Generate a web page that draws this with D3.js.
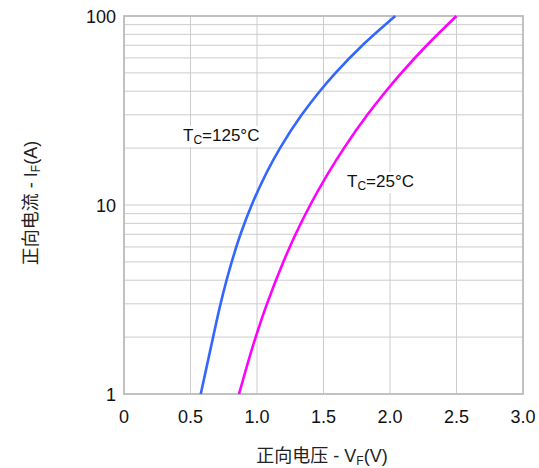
<!DOCTYPE html>
<html><head><meta charset="utf-8">
<script src="https://cdn.jsdelivr.net/npm/d3@7/dist/d3.min.js"></script>
<style>body{margin:0;background:#fff}</style>
</head><body>
<script>
const xTicks = [0, 0.5, 1.0, 1.5, 2.0, 2.5, 3.0];
const xTickLabels = ["0", "0.5", "1.0", "1.5", "2.0", "2.5", "3.0"];
const yTicks = [1, 10, 100];
const yTickLabels = ["1", "10", "100"];
// Tc=125°C
const v125 = [0.577, 0.670, 0.726, 0.810, 0.876, 0.960, 1.173, 1.336, 1.472, 1.591, 1.793, 2.040];
const i125 = [1, 2, 3, 5, 7, 10, 20, 30, 40, 50, 70, 100];
// Tc=25°C
const v25 = [0.865, 0.990, 1.075, 1.198, 1.290, 1.400, 1.654, 1.830, 1.969, 2.086, 2.277, 2.500];
const i25 = [1, 2, 3, 5, 7, 10, 20, 30, 40, 50, 70, 100];
const seriesNames = ["125", "25"];
const seriesColors = ["#3366ff", "#ff00ff"];

const W = 539, H = 468;
const m = {l:124, r:16, t:16, b:74};
const svg = d3.select("body").append("svg").attr("width", W).attr("height", H);
const x = d3.scaleLinear().domain([0, 3]).range([m.l, W - m.r]);
const y = d3.scaleLog().domain([1, 100]).range([H - m.b, m.t]);

const grid = svg.append("g");
const minor = [];
for (let d = 1; d < 100; d *= 10) for (let k = 2; k <= 9; k++) minor.push(d * k);
grid.selectAll("line.h").data(minor.concat([10])).join("line")
  .attr("x1", x(0)).attr("x2", x(3)).attr("y1", d => y(d)).attr("y2", d => y(d))
  .attr("stroke", "#cccccc").attr("stroke-width", 1);
grid.selectAll("line.v").data(xTicks.slice(1, -1)).join("line")
  .attr("y1", y(1)).attr("y2", y(100)).attr("x1", d => x(d)).attr("x2", d => x(d))
  .attr("stroke", "#cccccc").attr("stroke-width", 1);
svg.append("rect").attr("x", x(0)).attr("y", y(100)).attr("width", x(3) - x(0)).attr("height", y(1) - y(100))
  .attr("fill", "none").attr("stroke", "#bbbbbb").attr("stroke-width", 1.8);

const line = d3.line().x(d => x(d[0])).y(d => y(d[1])).curve(d3.curveMonotoneY);
[[v125, i125], [v25, i25]].forEach((s, k) => {
  svg.append("path").datum(d3.zip(s[0], s[1])).attr("d", line)
    .attr("fill", "none").attr("stroke", seriesColors[k]).attr("stroke-width", 2.6);
});

const font = "'Liberation Sans', Arial, sans-serif";
svg.selectAll("text.xt").data(xTicks).join("text")
  .attr("x", d => x(d)).attr("y", y(1) + 29).attr("text-anchor", "middle")
  .attr("font-family", font).attr("font-size", 18).attr("fill", "#111")
  .text((d, i) => xTickLabels[i]);
svg.selectAll("text.yt").data(yTicks).join("text")
  .attr("x", x(0) - 8).attr("y", d => y(d) + 7).attr("text-anchor", "end")
  .attr("font-family", font).attr("font-size", 18).attr("fill", "#111")
  .text((d, i) => yTickLabels[i]);

function label(px, py, temp) {
  const g = svg.append("g");
  const bg = g.append("rect").attr("fill", "#fff");
  const t = g.append("text").attr("x", px).attr("y", py).attr("font-family", font).attr("font-size", 17).attr("fill", "#111");
  t.append("tspan").text("T");
  t.append("tspan").attr("font-size", 12).attr("dy", 3).text("C");
  t.append("tspan").attr("dy", -3).text("=" + temp + "°C");
  const b = t.node().getBBox();
  bg.attr("x", b.x - 2).attr("y", b.y).attr("width", b.width + 4).attr("height", b.height);
}
label(183, 141, seriesNames[0]);
label(347, 187, seriesNames[1]);

const tf = "'Liberation Sans', Arial, 'Noto Sans CJK SC', sans-serif";
const xt = svg.append("text").attr("x", 322).attr("y", 462).attr("text-anchor", "middle")
  .attr("font-family", tf).attr("font-size", 18).attr("fill", "#222");
xt.append("tspan").text("正向电压 - V");
xt.append("tspan").attr("font-size", 12).attr("dy", 3).text("F");
xt.append("tspan").attr("dy", -3).text("(V)");
const yt = svg.append("text").attr("transform", "translate(37,203) rotate(-90)").attr("text-anchor", "middle")
  .attr("font-family", tf).attr("font-size", 18).attr("fill", "#222");
yt.append("tspan").text("正向电流 - I");
yt.append("tspan").attr("font-size", 12).attr("dy", 3).text("F");
yt.append("tspan").attr("dy", -3).text("(A)");
</script>
</body></html>
